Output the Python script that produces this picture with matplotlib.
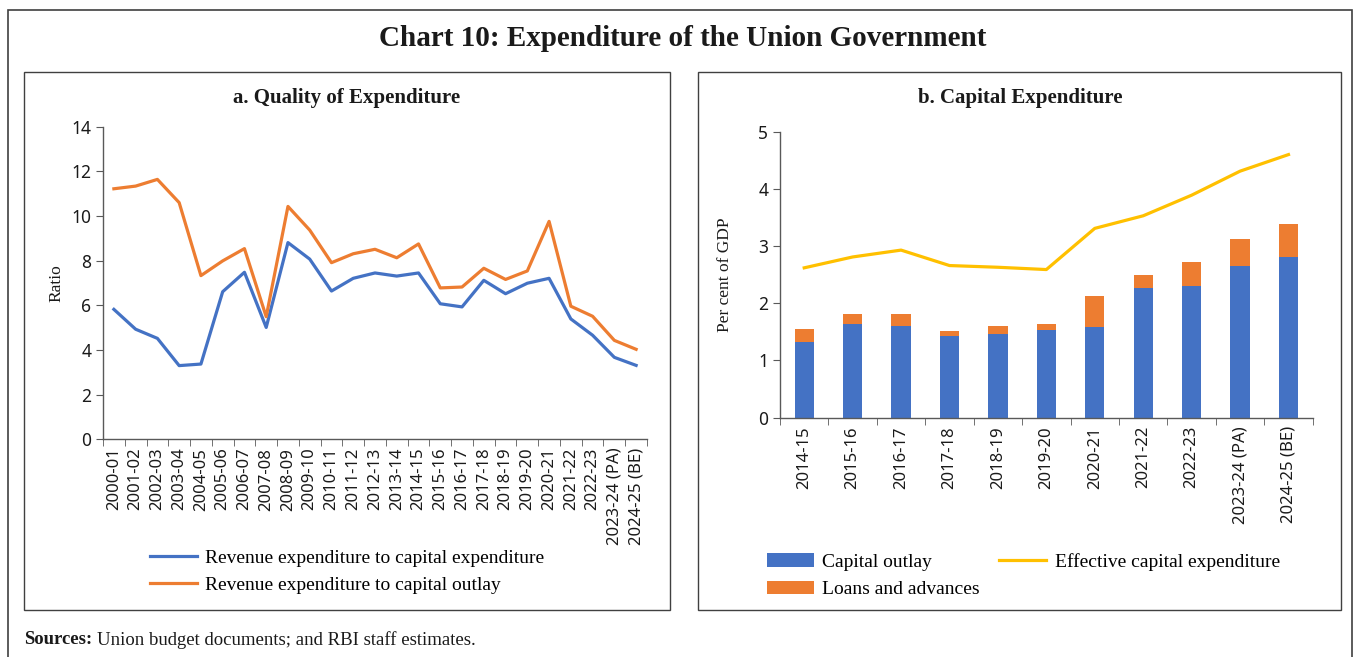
import matplotlib.pyplot as plt
from matplotlib.patches import Rectangle
import numpy as np

# Panel a: quality of expenditure (ratio)
years_a = ['2000-01', '2001-02', '2002-03', '2003-04', '2004-05', '2005-06', '2006-07',
           '2007-08', '2008-09', '2009-10', '2010-11', '2011-12', '2012-13', '2013-14',
           '2014-15', '2015-16', '2016-17', '2017-18', '2018-19', '2019-20', '2020-21',
           '2021-22', '2022-23', '2023-24 (PA)', '2024-25 (BE)']
rev_to_capexp = [5.82, 4.93, 4.52, 3.30, 3.37, 6.61, 7.48, 5.01, 8.81, 8.07, 6.64, 7.21,
                 7.45, 7.31, 7.45, 6.07, 5.93, 7.12, 6.52, 6.99, 7.21, 5.39, 4.66, 3.67, 3.31]
rev_to_capout = [11.22, 11.34, 11.64, 10.60, 7.33, 7.99, 8.54, 5.49, 10.43, 9.37, 7.91, 8.31,
                 8.51, 8.13, 8.75, 6.78, 6.82, 7.66, 7.16, 7.54, 9.76, 5.96, 5.51, 4.43, 4.03]

# Panel b: capital expenditure (per cent of GDP)
years_b = ['2014-15', '2015-16', '2016-17', '2017-18', '2018-19', '2019-20', '2020-21',
           '2021-22', '2022-23', '2023-24 (PA)', '2024-25 (BE)']
capital_outlay = [1.33, 1.64, 1.60, 1.42, 1.47, 1.54, 1.58, 2.26, 2.31, 2.66, 2.81]
loans_advances = [0.22, 0.17, 0.22, 0.10, 0.13, 0.10, 0.54, 0.23, 0.41, 0.47, 0.58]
effective_capex = [2.62, 2.81, 2.93, 2.66, 2.63, 2.59, 3.31, 3.53, 3.89, 4.31, 4.60]

BLUE = '#4472C4'
ORANGE = '#ED7D31'
YELLOW = '#FFC000'
SPINE = '#595959'
TXT = '#1a1a1a'
serif = 'Liberation Serif'
sans = 'Noto Sans'

fig = plt.figure(figsize=(13.58, 6.57), dpi=100)
W, H = 1358, 657


def px_rect(x0, y0, x1, y1, lw=1.0):
    # frame drawn in pixel coords of the figure
    fig.patches.append(Rectangle((x0 / W, 1 - y1 / H), (x1 - x0) / W, (y1 - y0) / H,
                                 transform=fig.transFigure, fill=False,
                                 edgecolor='#404040', linewidth=lw))


px_rect(8, 10, 1352, 662, lw=1.2)
px_rect(24, 72, 670, 610)
px_rect(698, 72, 1341, 610)

fig.text(683 / W, 1 - 39 / H, 'Chart 10: Expenditure of the Union Government',
         ha='center', va='center', fontsize=21, fontweight='bold', family=serif, color=TXT)
fig.text(347 / W, 1 - 98 / H, 'a. Quality of Expenditure', ha='center', va='center',
         fontsize=15, fontweight='bold', family=serif, color=TXT)
fig.text(1020 / W, 1 - 98 / H, 'b. Capital Expenditure', ha='center', va='center',
         fontsize=15, fontweight='bold', family=serif, color=TXT)
fig.text(24 / W, 1 - 640 / H, 'Sources:', ha='left', va='center', fontsize=13.5,
         fontweight='bold', family=serif, color=TXT)
fig.text(97 / W, 1 - 640 / H, 'Union budget documents; and RBI staff estimates.', ha='left',
         va='center', fontsize=13.5, family=serif, color=TXT)


def style_axis(ax, n):
    for s in ['top', 'right']:
        ax.spines[s].set_visible(False)
    for s in ['left', 'bottom']:
        ax.spines[s].set_color(SPINE)
        ax.spines[s].set_linewidth(1.0)
    ax.set_xlim(-0.5, n - 0.5)
    ax.set_xticks(np.arange(n))
    ax.set_xticks(np.arange(n + 1) - 0.5, minor=True)
    ax.tick_params(axis='x', which='major', length=0, pad=6)
    ax.tick_params(axis='x', which='minor', length=5, color=SPINE, direction='out')
    ax.tick_params(axis='y', length=5, color=SPINE, direction='out', labelsize=12.5, labelcolor=TXT)
    for lab in ax.get_yticklabels():
        lab.set_family(sans)


leg_kw = dict(frameon=False, prop={'family': serif, 'size': 14}, handlelength=2.4,
              handletextpad=0.45, labelspacing=0.5, borderpad=0, borderaxespad=0,
              bbox_transform=fig.transFigure, loc='upper left')

# ---- panel a
ax1 = fig.add_axes([103 / W, 1 - 439.3 / H, (647 - 103) / W, (439.3 - 126.7) / H])
x = np.arange(len(years_a))
ax1.plot(x, rev_to_capexp, color=BLUE, linewidth=2.3, label='Revenue expenditure to capital expenditure')
ax1.plot(x, rev_to_capout, color=ORANGE, linewidth=2.3, label='Revenue expenditure to capital outlay')
ax1.set_ylim(0, 14)
ax1.set_yticks(range(0, 15, 2))
style_axis(ax1, len(years_a))
ax1.set_xticklabels(years_a, rotation=90, fontsize=12, family=sans, color=TXT)
ax1.set_ylabel('Ratio', family=serif, fontsize=12.5, labelpad=5, color=TXT)
ax1.legend(bbox_to_anchor=(150 / W, 1 - 549 / H), **leg_kw)

# ---- panel b
ax2 = fig.add_axes([780 / W, 1 - 417.7 / H, (1312.7 - 780) / W, (417.7 - 131.7) / H])
xb = np.arange(len(years_b))
b1 = ax2.bar(xb, capital_outlay, width=0.4, color=BLUE, label='Capital outlay')
b2 = ax2.bar(xb, loans_advances, width=0.4, bottom=capital_outlay, color=ORANGE, label='Loans and advances')
l1, = ax2.plot(xb, effective_capex, color=YELLOW, linewidth=2.3, label='Effective capital expenditure')
ax2.set_ylim(0, 5)
ax2.set_yticks(range(0, 6))
style_axis(ax2, len(years_b))
ax2.set_xticklabels(years_b, rotation=90, fontsize=12, family=sans, color=TXT)
ax2.set_ylabel('Per cent of GDP', family=serif, fontsize=12.5, labelpad=18, color=TXT)
ax2.legend([b1, b2, l1], ['Capital outlay', 'Loans and advances', 'Effective capital expenditure'],
           ncol=2, columnspacing=1.0, bbox_to_anchor=(767 / W, 1 - 553 / H), **leg_kw)

fig.savefig('out.png', dpi=100)
